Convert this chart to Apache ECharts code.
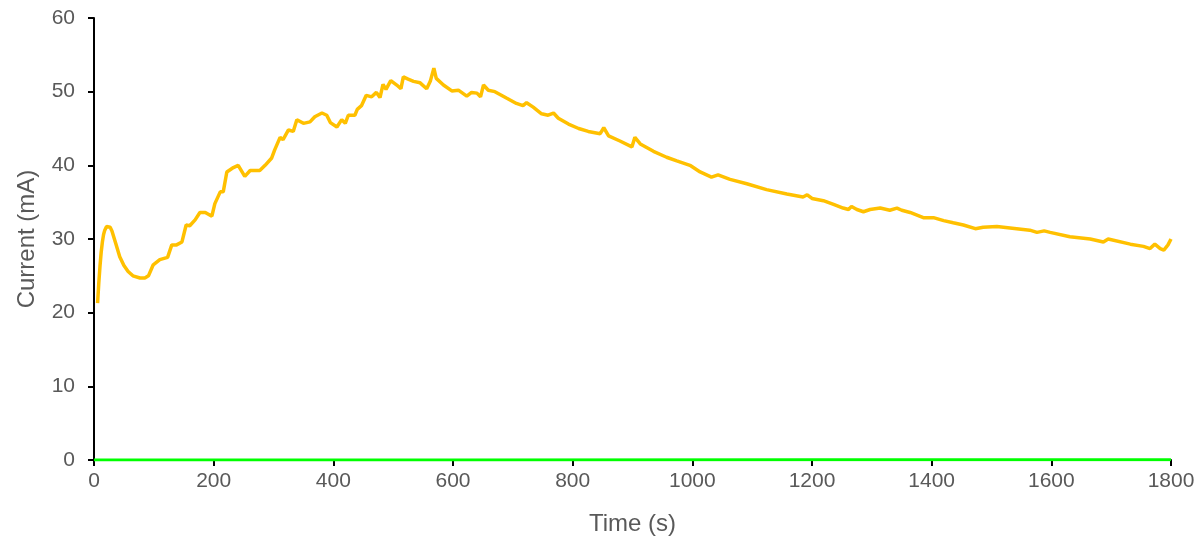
<!DOCTYPE html>
<html>
<head>
<meta charset="utf-8">
<script src="https://cdn.jsdelivr.net/npm/echarts@6/dist/echarts.min.js"></script>
<style>
    html, body { margin: 0; padding: 0; background: #fff; }
    #chart { width: 1201px; height: 543px; }
</style>
</head>
<body>
<div id="chart"></div>
<script>
// time (s) and current (mA)
const timeA = [6, 8, 10, 12, 14, 16, 18, 21, 24, 27, 30, 36, 43, 50, 57, 65, 77, 85, 91, 99, 110, 123, 130, 138, 147,
    154, 160, 169, 177, 186, 197, 202, 211, 216, 222, 233, 241, 252, 261, 277, 286, 297, 302, 311, 316,
    325, 333, 339, 350, 361, 369, 381, 389, 395, 406, 414, 420, 425, 436, 440, 447, 455, 464, 472, 478,
    483, 488, 496, 506, 513, 517, 525, 534, 545, 556, 562, 568, 572, 584, 598, 609, 623, 631, 640, 646,
    651, 659, 670, 690, 706, 717, 723, 734, 748, 759, 768, 776, 793, 810, 826, 846, 852, 860, 879, 899,
    904, 913, 935, 957, 974, 996, 1013, 1032, 1043, 1063, 1091, 1124, 1158, 1185, 1192, 1200, 1219, 1236, 1252, 1261,
    1266, 1275, 1286, 1297, 1314, 1330, 1342, 1350, 1364, 1386, 1403, 1420, 1436, 1453, 1473, 1486, 1509, 1542, 1564, 1576,
    1588, 1598, 1631, 1665, 1687, 1695, 1732, 1754, 1765, 1773, 1782, 1788, 1795, 1800];
const currentA = [21.3, 24.0, 26.3, 28.2, 29.6, 30.6, 31.2, 31.7, 31.8, 31.6, 31.1, 29.5, 27.6, 26.4, 25.6, 25.0, 24.7, 24.7, 25.0, 26.5, 27.2, 27.5, 29.2, 29.2, 29.6,
    31.9, 31.8, 32.6, 33.6, 33.6, 33.1, 34.8, 36.4, 36.4, 39.1, 39.7, 40.0, 38.5, 39.3, 39.3, 40.0, 41.0, 42.1, 43.8, 43.5,
    44.8, 44.6, 46.2, 45.7, 45.9, 46.6, 47.1, 46.8, 45.8, 45.2, 46.2, 45.7, 46.8, 46.8, 47.6, 48.1, 49.5, 49.3, 49.9, 49.2,
    51.0, 50.3, 51.5, 50.9, 50.4, 52.0, 51.7, 51.4, 51.2, 50.4, 51.4, 53.2, 51.8, 50.9, 50.1, 50.2, 49.4, 49.9, 49.8, 49.3,
    50.9, 50.2, 50.0, 49.1, 48.4, 48.1, 48.5, 47.9, 47.0, 46.8, 47.1, 46.4, 45.6, 45.0, 44.6, 44.3, 45.1, 44.0, 43.3, 42.5,
    43.8, 42.9, 41.9, 41.1, 40.6, 40.0, 39.1, 38.4, 38.7, 38.1, 37.5, 36.7, 36.1, 35.7, 36.0, 35.5, 35.2, 34.7, 34.2, 34.0,
    34.4, 34.0, 33.7, 34.0, 34.2, 33.9, 34.2, 33.9, 33.6, 32.9, 32.9, 32.5, 32.2, 31.9, 31.4, 31.6, 31.7, 31.4, 31.2, 30.9,
    31.1, 30.9, 30.3, 30.0, 29.6, 30.0, 29.3, 29.0, 28.7, 29.3, 28.7, 28.5, 29.2, 30.0];

// second trace sits on zero
const timeB = [0, 600, 1200, 1800];
const currentB = [0, 0, 0.02, 0.05];

const labelColor = '#595959';
const fontFamily = '"Liberation Sans", Arial, sans-serif';

const chart = echarts.init(document.getElementById('chart'));

const pair = (xs, ys) => xs.map((x, i) => [x, ys[i]]);

const axisCommon = {
    axisLine: { show: true, onZero: false, lineStyle: { color: '#000', width: 2 } },
    axisTick: { show: true, inside: false, length: 6, lineStyle: { color: '#000', width: 2 } },
    splitLine: { show: false },
    nameTextStyle: { color: labelColor, fontSize: 24, fontFamily: fontFamily }
};

chart.setOption({
    animation: false,
    grid: {
        left: 94,
        right: 30,
        top: 18,
        bottom: 83,
        containLabel: false
    },
    xAxis: Object.assign({}, axisCommon, {
        type: 'value',
        min: 0,
        max: 1800,
        interval: 200,
        name: 'Time (s)',
        nameLocation: 'middle',
        nameGap: 52,
        axisLabel: {
            color: labelColor, fontSize: 21, fontFamily: fontFamily, margin: 11,
            formatter: v => String(v)
        }
    }),
    yAxis: Object.assign({}, axisCommon, {
        type: 'value',
        min: 0,
        max: 60,
        interval: 10,
        name: 'Current (mA)',
        nameLocation: 'middle',
        nameGap: 55,
        axisLabel: { color: labelColor, fontSize: 21, fontFamily: fontFamily, margin: 19 }
    }),
    series: [{
        type: 'line',
        data: pair(timeA, currentA),
        showSymbol: false,
        smooth: false,
        lineStyle: { color: '#FFC000', width: 3.5 },
        itemStyle: { color: '#FFC000' }
    }, {
        type: 'line',
        data: pair(timeB, currentB),
        showSymbol: false,
        lineStyle: { color: '#00FF00', width: 3 },
        itemStyle: { color: '#00FF00' }
    }]
});
</script>
</body>
</html>
